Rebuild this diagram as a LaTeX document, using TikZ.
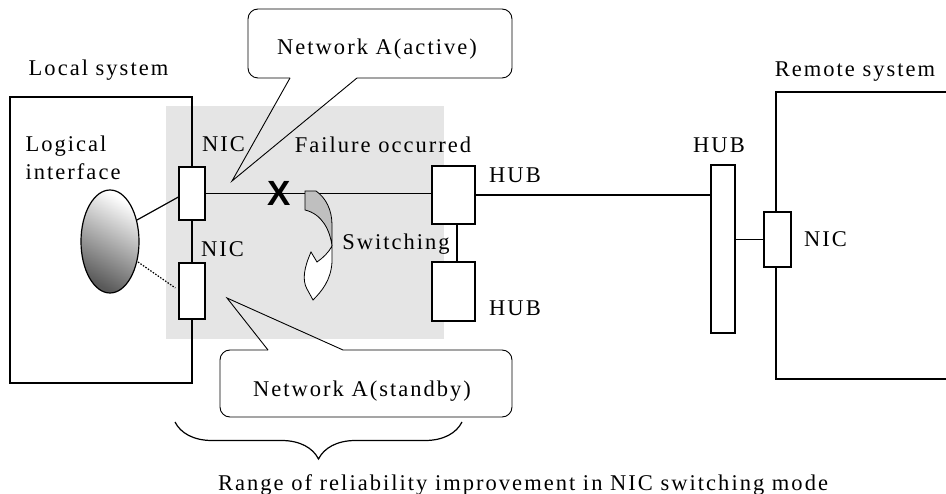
\documentclass[tikz,border=0pt]{standalone}
\usepackage{fontspec}
\setmainfont{Liberation Serif}[LetterSpace=9]
\newfontfamily\crossfont{Liberation Sans}
\usetikzlibrary{calc}
\usetikzlibrary{decorations.pathreplacing}

\begin{document}
\begin{tikzpicture}[x=1pt,y=-1pt,line width=1.2pt,
  every node/.style={font=\fontsize{22.5}{28}\selectfont},
  lbl/.style={anchor=base,inner sep=0pt},
  port/.style={draw,fill=white,inner sep=0pt}]
\useasboundingbox (0,0) rectangle (946,494);
\fill[black!10] (166,106) rectangle (444,339);
\draw (10,97) rectangle (192,383);
\draw (950,92) -| (776,379) -- (950,379);
\coordinate (tipA) at (232,181);
\coordinate (tipB) at (227,298);
\draw[line width=0.9pt,rounded corners=10pt] (290,78) -| (248,9) -| (512,78) -- (357,78);
\draw[line width=0.9pt] (357,78) -- (tipA) -- (290,78);
\draw[line width=0.9pt,rounded corners=10pt] (268,350) -| (220,417) -| (512,350) -- (343,350);
\draw[line width=0.9pt] (343,350) -- (tipB) -- (268,350);
\shade[draw,top color=white,bottom color=black!65,shading angle=-30] (110,241.5) ellipse [x radius=29,y radius=51.5];
\coordinate (lifA) at (137,220);
\coordinate (lifB) at (138,262);
\node[port,minimum width=26pt,minimum height=53pt] (nicA) at (192,193.5) {};
\node[port,minimum width=26pt,minimum height=56pt] (nicB) at (192,291) {};
\node[port,minimum width=43pt,minimum height=58pt] (hubA) at (453.5,195) {};
\node[port,minimum width=43pt,minimum height=59pt] (hubB) at (453.5,291.5) {};
\node[port,minimum width=24pt,minimum height=168pt] (hubR) at (723,249) {};
\node[port,minimum width=27pt,minimum height=55pt] (nicR) at (777.5,239.5) {};
\draw (lifA) -- ([yshift=-3.5pt]nicA.west);
\draw[dash pattern=on 1.5pt off 1.5pt] (lifB) -- ([xshift=-3pt,yshift=3pt]nicB.west);
\draw (nicA.east) -- (nicA.east -| hubA.west);
\draw (hubA.east) -- (hubA.east -| hubR.west);
\draw ([xshift=3.5pt]hubA.south) -- ([xshift=3.5pt]hubB.north);
\draw (nicR.west) -- (nicR.west -| hubR.east);
\draw[line width=0.8pt,fill=black!25] (305,191) -- (316,191) .. controls (326,198) and (332,210) .. (332,225) -- (332,246) .. controls (330,230) and (322,214) .. (305,210) -- cycle;
\draw[line width=0.8pt,fill=white] (332,246) -- (332,262) .. controls (331,280) and (322,291) .. (313,300) -- (307,289) .. controls (302,280) and (304,268) .. (311,252) -- (317,262) .. controls (323,258) and (329,252) .. (332,246) -- cycle;
\node[font=\crossfont\bfseries\fontsize{35}{35}\selectfont,inner sep=0pt] (fail) at (279,193.5) {X};
\draw[decorate,decoration={brace,mirror,amplitude=37pt}] (175,422) -- (462,422);
\node[lbl] (locT) at (98.5,76) {Local system};
\node[lbl] (remT) at (855,77) {Remote system};
\node[lbl,anchor=base west,align=left] (lifT) at (25,180) {Logical\\interface};
\node[lbl] (nicAT) at (223.5,152) {NIC};
\node[lbl] (nicBT) at (222.5,257) {NIC};
\node[lbl] (failT) at (383,153) {Failure occurred};
\node[lbl] (swT) at (396,250) {Switching};
\node[lbl] (hubAT) at (515,183) {HUB};
\node[lbl] (hubBT) at (515,316) {HUB};
\node[lbl] (hubRT) at (719,153) {HUB};
\node[lbl] (nicRT) at (825.5,247) {NIC};
\node[lbl] (netAT) at (377,55) {Network A(active)};
\node[lbl] (netBT) at (362,397) {Network A(standby)};
\node[lbl] (rangeT) at (523,490) {Range of reliability improvement in NIC switching mode};
\end{tikzpicture}
\end{document}
